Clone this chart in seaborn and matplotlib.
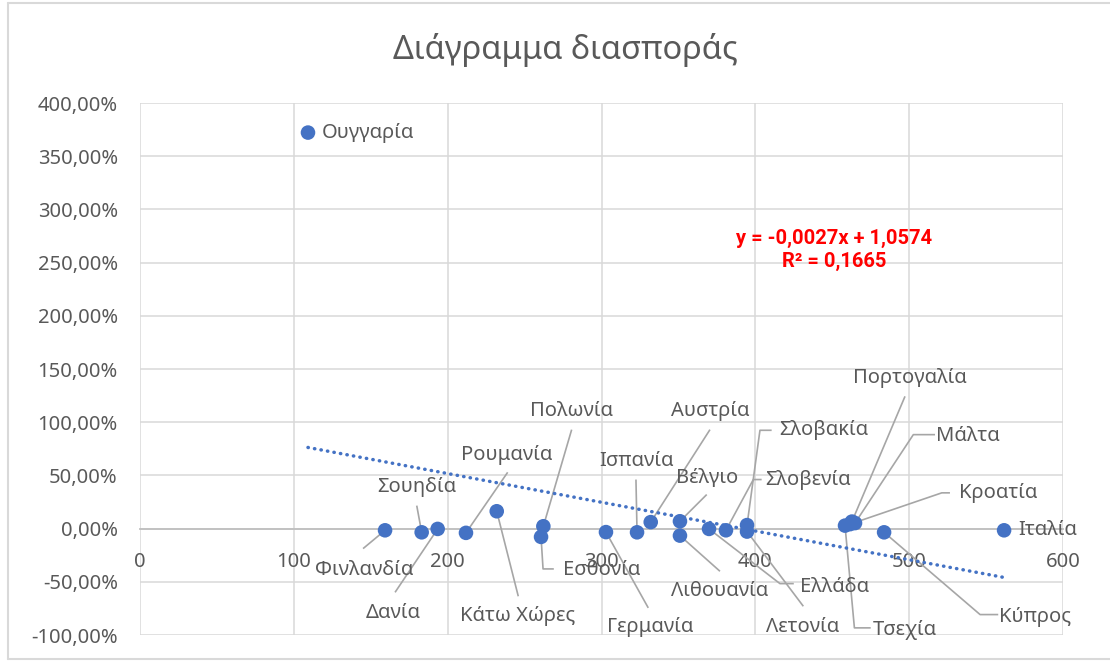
import matplotlib
matplotlib.use("Agg")
import matplotlib.pyplot as plt
from matplotlib.ticker import FuncFormatter
from matplotlib.lines import Line2D
import numpy as np
import pandas as pd
import seaborn as sns

# ---- data -----------------------------------------------------------------
countries = ['Φινλανδία', 'Σουηδία', 'Δανία', 'Ρουμανία', 'Κάτω Χώρες',
             'Πολωνία', 'Εσθονία', 'Γερμανία', 'Ισπανία', 'Αυστρία',
             'Βέλγιο', 'Λιθουανία', 'Ελλάδα', 'Σλοβενία', 'Σλοβακία',
             'Λετονία', 'Τσεχία', 'Πορτογαλία', 'Μάλτα', 'Κροατία',
             'Κύπρος', 'Ιταλία', 'Ουγγαρία']
x_values = [159.3, 183.1, 193.5, 211.9, 231.9, 262.2, 260.7, 302.9, 323.1,
            332.0, 351.0, 351.0, 369.9, 380.9, 394.6, 394.6, 458.3, 462.8,
            464.8, 461.6, 483.7, 561.7, 109.2]
y_values = [-0.016, -0.035, -0.003, -0.040, 0.163, 0.022, -0.078, -0.033,
            -0.035, 0.061, 0.069, -0.066, -0.003, -0.016, 0.033, -0.028,
            0.028, 0.066, 0.052, 0.042, -0.035, -0.016, 3.722]

# linear trendline coefficients
slope = -0.0027
intercept = 1.0574
r_squared = 0.1665

title = 'Διάγραμμα διασποράς'
x_ticks = [0, 100, 200, 300, 400, 500, 600]
y_ticks = [-1.0, -0.5, 0.0, 0.5, 1.0, 1.5, 2.0, 2.5, 3.0, 3.5, 4.0]

# ---- label placement (text centre, then leader-line vertices) --------------
label_layout = {
    'Φινλανδία':  ((145.6, -0.385), [(145.0, -0.188)]),
    'Σουηδία':    ((179.9, 0.388), [(179.9, 0.216)]),
    'Δανία':      ((164.7, -0.792), [(165.8, -0.599)]),
    'Ρουμανία':   ((238.4, 0.695), [(239.0, 0.529)]),
    'Κάτω Χώρες': ((245.3, -0.818), [(245.9, -0.636)]),
    'Πολωνία':    ((280.2, 1.102), [(280.6, 0.930)]),
    'Εσθονία':    ((300.3, -0.385), [(262.0, -0.379), (269.0, -0.379)]),
    'Γερμανία':   ((331.5, -0.921), [(330.4, -0.745)]),
    'Ισπανία':    ((322.9, 0.633), [(322.4, 0.461)]),
    'Αυστρία':    ((370.5, 1.102), [(370.5, 0.930)]),
    'Βέλγιο':     ((368.4, 0.477), [(368.4, 0.320)]),
    'Λιθουανία':  ((377.0, -0.589), [(377.0, -0.401)]),
    'Ελλάδα':     ((451.8, -0.548), [(416.0, -0.517), (425.0, -0.517)]),
    'Σλοβενία':   ((434.4, 0.461), [(398.7, 0.461), (404.1, 0.461)]),
    'Σλοβακία':   ((444.2, 0.924), [(403.0, 0.924), (410.6, 0.924)]),
    'Λετονία':    ((430.8, -0.924), [(431.2, -0.730)]),
    'Τσεχία':     ((497.3, -0.949), [(464.4, -0.933), (475.0, -0.933)]),
    'Πορτογαλία': ((500.6, 1.419), [(497.3, 1.243)]),
    'Μάλτα':      ((538.4, 0.874), [(502.7, 0.883), (516.8, 0.883)]),
    'Κροατία':    ((558.0, 0.336), [(521.2, 0.336), (526.5, 0.336)]),
    'Κύπρος':     ((581.8, -0.830), [(546.1, -0.808), (557.9, -0.808)]),
}
right_labels = ['Ιταλία', 'Ουγγαρία']

# ---- style ------------------------------------------------------------------
sns.set_style("white")
plt.rcParams['font.family'] = ['Noto Sans', 'DejaVu Sans']

BLUE = '#4472C4'
TEXT = '#595959'
GRID = '#D9D9D9'
LEADER = '#A6A6A6'
LABEL_SIZE = 14.5

W, H = 1110, 663
fig = plt.figure(figsize=(W / 100, H / 100), dpi=100)
ax = fig.add_axes([140 / W, 1 - 635 / H, (1063 - 140) / W, (635 - 103) / H])

# chart-area frame
for xs, ys in [((8, 8), (3, 659)), ((8, W), (3, 3)), ((8, W), (659, 659))]:
    fig.add_artist(Line2D([v / W for v in xs], [1 - v / H for v in ys],
                          color=GRID, lw=1.5, transform=fig.transFigure))

df = pd.DataFrame({'country': countries, 'x': x_values, 'y': y_values})

ax.set_xlim(0, 600)
ax.set_ylim(-1, 4)
ax.set_xticks(x_ticks)
ax.set_yticks(y_ticks)
ax.grid(True, color=GRID, lw=1.1, zorder=0)
ax.set_axisbelow(True)

for side in ['top', 'right', 'left']:
    ax.spines[side].set_visible(False)
ax.spines['bottom'].set_position(('data', 0))
ax.spines['bottom'].set_color('#BFBFBF')
ax.spines['bottom'].set_linewidth(1.3)
ax.spines['bottom'].set_zorder(1)

ax.yaxis.set_major_formatter(FuncFormatter(
    lambda v, _: f"{v * 100:.2f}".replace('.', ',') + '%'))
ax.tick_params(axis='both', length=0, labelsize=LABEL_SIZE, labelcolor=TEXT)
ax.tick_params(axis='y', pad=16)
ax.tick_params(axis='x', pad=17)

# leader lines and labels
xy = dict(zip(countries, zip(x_values, y_values)))
for name, (txt, path) in label_layout.items():
    px, py = xy[name]
    lx = [px] + [p[0] for p in path]
    ly = [py] + [p[1] for p in path]
    ax.plot(lx, ly, color=LEADER, lw=1.2, zorder=2, solid_capstyle='butt')
    ax.text(txt[0], txt[1], name, ha='center', va='center',
            fontsize=LABEL_SIZE, color=TEXT, zorder=5)
for name in right_labels:
    px, py = xy[name]
    ax.annotate(name, (px, py), xytext=(10, 0), textcoords='offset points',
                ha='left', va='center', fontsize=LABEL_SIZE, color=TEXT,
                zorder=5)

# points
sns.scatterplot(data=df, x='x', y='y', ax=ax, color=BLUE, s=110,
                edgecolor='none', zorder=3, legend=False)

# trendline drawn from its equation
trend_x = np.array([min(x_values), max(x_values)])
trend = pd.DataFrame({'x': trend_x, 'y': slope * trend_x + intercept})
sns.lineplot(data=trend, x='x', y='y', ax=ax, color=BLUE, lw=2.5,
             linestyle=(0, (0.1, 1.8)), zorder=4)
ax.lines[-1].set_dash_capstyle('round')

def fmt(v, d):
    return f"{v:.{d}f}".replace('.', ',')

sign = '+' if intercept >= 0 else '-'
eq = f"y = {fmt(slope, 4)}x {sign} {fmt(abs(intercept), 4)}\nR² = {fmt(r_squared, 4)}"
ax.text(451.5, 2.62, eq, ha='center', va='center', fontsize=14.5,
        fontweight='bold', color='#FF0000', linespacing=1.3, zorder=6,
        family=['Roboto', 'DejaVu Sans'])

ax.set_xlabel('')
ax.set_ylabel('')
fig.text(565 / W, 1 - 50 / H, title, ha='center', va='center',
         fontsize=23.5, color=TEXT)

fig.savefig('out.png', dpi=100)
